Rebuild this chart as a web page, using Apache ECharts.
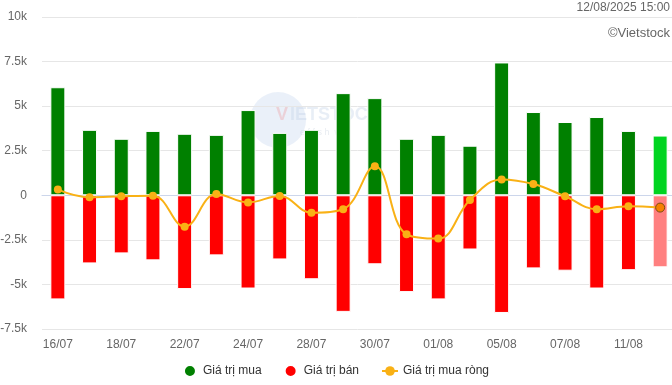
<!DOCTYPE html>
<html>
<head>
<meta charset="utf-8">
<script src="https://cdn.jsdelivr.net/npm/echarts@6/dist/echarts.min.js"></script>
<style>html,body{margin:0;padding:0;background:#fff}#c{width:672px;height:385px}</style>
</head>
<body>
<div id="c"></div>
<script>
const categories = ['16/07','17/07','18/07','21/07','22/07','23/07','24/07','25/07','28/07','29/07','30/07','31/07','01/08','04/08','05/08','06/08','07/08','08/08','11/08','12/08'];
const buyValues = [6060,3670,3170,3610,3450,3390,4780,3500,3670,5730,5450,3170,3390,2780,7450,4670,4110,4390,3610,3350];
const sellValues = [-5840,-3820,-3260,-3650,-5260,-3370,-5230,-3600,-4710,-6540,-3870,-5430,-5840,-3040,-6600,-4100,-4230,-5230,-4200,-4040];
const netValues = [320,-110,-56,-20,-1760,72,-400,-40,-980,-780,1630,-2190,-2430,-260,890,630,-55,-780,-610,-690];
const yTicks = {min:-7500, max:10000, interval:2500};
const timestamp = '12/08/2025 15:00';
const credit = '©Vietstock';

const FONT = '"Liberation Sans", Arial, sans-serif';
const last = categories.length - 1;
const buyData = buyValues.map((v,i)=> i===last ? {value:v, itemStyle:{color:'#00d420'}} : v);
const sellData = sellValues.map((v,i)=> i===last ? {value:v, itemStyle:{color:'#ff8080'}} : v);
const netData = netValues.map((v,i)=> i===last ? {value:v, itemStyle:{color:'#f77f00', borderColor:'#7a4a10', borderWidth:1}, symbolSize:9} : v);

const chart = echarts.init(document.getElementById('c'), null, {renderer:'canvas'});
chart.setOption({
  animation:false,
  textStyle:{fontFamily:FONT},
  graphic:[
    {type:'text', right:2, top:2, style:{text:timestamp, fill:'#666', font:'12px '+FONT, textAlign:'right'}},
    {type:'text', right:2, top:27, style:{text:credit, fill:'#666', font:'13px '+FONT, textAlign:'right'}},
    {type:'circle', shape:{cx:278, cy:120, r:28}, style:{fill:'rgba(170,195,230,0.25)'}, z:-1, silent:true},
    {type:'text', left:276, top:106, style:{text:'V', fill:'rgba(240,120,120,0.25)', font:'bold 18px '+FONT}, z:-1, silent:true},
    {type:'text', left:290, top:106, style:{text:'IETSTOCK', fill:'rgba(190,205,230,0.35)', font:'bold 18px '+FONT}, z:-1, silent:true},
    {type:'text', left:300, top:128, style:{text:'e f f s h  w a', fill:'rgba(190,200,215,0.35)', font:'9px '+FONT}, z:-1, silent:true}
  ],
  legend:{
    bottom:2, left:'center', itemGap:22, itemWidth:16, itemHeight:12,
    textStyle:{color:'#333', fontSize:12, fontFamily:FONT},
    data:[
      {name:'Giá trị mua', icon:'circle'},
      {name:'Giá trị bán', icon:'circle'},
      {name:'Giá trị mua ròng'}
    ]
  },
  grid:{left:42, top:17, width:634, bottom:56, outerBoundsMode:'none', containLabel:false},
  xAxis:{
    type:'category', data:categories, boundaryGap:true,
    axisLine:{show:true, lineStyle:{color:'#ccd6eb'}},
    axisTick:{show:false},
    axisLabel:{interval:1, color:'#666', fontSize:12, margin:10, fontFamily:FONT},
    splitLine:{show:false}
  },
  yAxis:{
    type:'value', min:yTicks.min, max:yTicks.max, interval:yTicks.interval,
    axisLine:{show:false}, axisTick:{show:false},
    axisLabel:{color:'#666', fontSize:12, margin:15, fontFamily:FONT,
      formatter:v=> v===0 ? '0' : (v/1000)+'k'},
    splitLine:{lineStyle:{color:'#e6e6e6'}}
  },
  series:[
    {name:'Giá trị mua', type:'bar', data:buyData, barWidth:15, barGap:'-100%',
      itemStyle:{color:'#008000', borderColor:'#fff', borderWidth:1}},
    {name:'Giá trị bán', type:'bar', data:sellData, barWidth:15,
      itemStyle:{color:'#ff0000', borderColor:'#fff', borderWidth:1}},
    {name:'Giá trị mua ròng', type:'line', data:netData, smooth:0.4,
      symbol:'circle', symbolSize:8,
      lineStyle:{color:'#f9b115', width:2},
      itemStyle:{color:'#f9b115'}, z:5}
  ]
});
</script>
</body>
</html>
